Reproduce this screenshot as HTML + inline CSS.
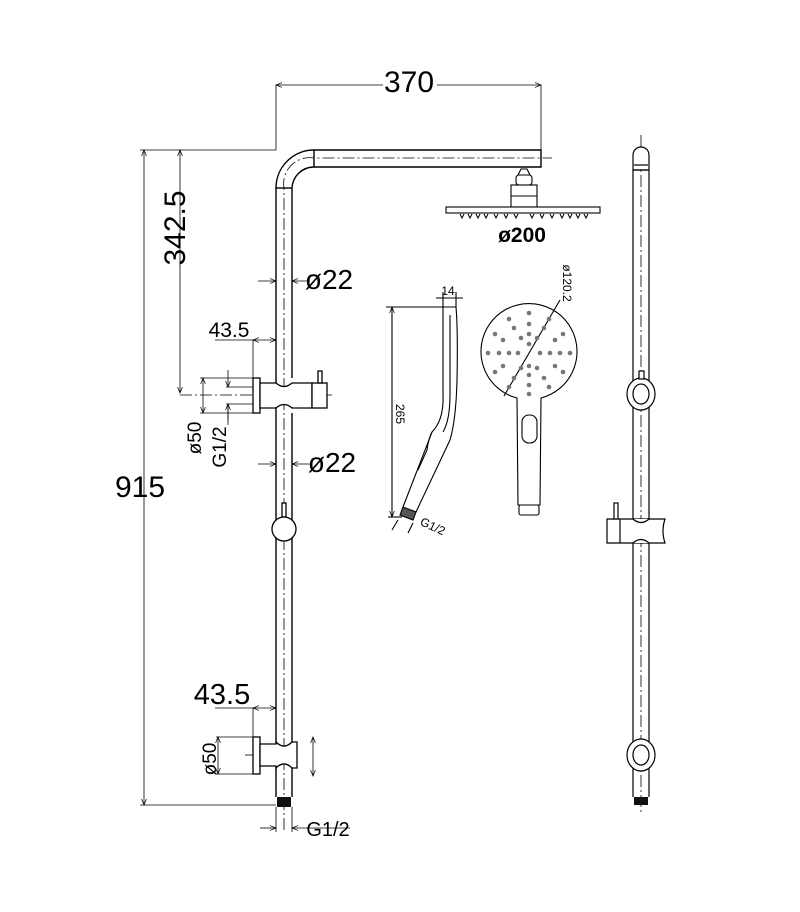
<!DOCTYPE html>
<html><head><meta charset="utf-8"><style>
html,body{margin:0;padding:0;background:#fff;}
svg{display:block;}
text{font-family:"Liberation Sans",sans-serif;fill:#000;}
</style></head><body>
<svg width="800" height="912" viewBox="0 0 800 912" xmlns="http://www.w3.org/2000/svg">
<defs>
<marker id="a" viewBox="0 0 10 10" refX="10" refY="5" markerWidth="8" markerHeight="6" orient="auto-start-reverse" markerUnits="userSpaceOnUse"><path d="M0,1 L10,5 L0,9" fill="none" stroke="#000" stroke-width="1.2"/></marker>
</defs>
<g fill="none" stroke="#000" stroke-width="1.4">
<!-- main pipe -->
<path d="M276,797 L276,188 A38,38 0 0 1 314,150 L541,150 L541,167 L314,167 A22,22 0 0 0 292,188 L292,378"/>
<path d="M292,413 L292,797"/>
<line x1="276" y1="188" x2="292" y2="188"/>
<line x1="314" y1="150" x2="314" y2="167"/>
</g>
<g fill="none" stroke="#000" stroke-width="0.8" stroke-dasharray="12,3,2,3">
<path d="M284,830 L284,188 A26,26 0 0 1 314,158 L552,158"/>
<line x1="180" y1="395" x2="335" y2="395"/>
<line x1="245" y1="755" x2="300" y2="755"/>
<line x1="641" y1="135" x2="641" y2="815"/>
</g>
<!-- dimension lines -->
<g fill="none" stroke="#000" stroke-width="0.8">
<line x1="276" y1="85" x2="276" y2="150"/>
<line x1="541" y1="85" x2="541" y2="150"/>
<line x1="276" y1="85" x2="383" y2="85" marker-start="url(#a)"/>
<line x1="437" y1="85" x2="541" y2="85" marker-end="url(#a)"/>
<line x1="140" y1="150" x2="276" y2="150"/>
<line x1="140" y1="805" x2="276" y2="805"/>
<line x1="144" y1="150" x2="144" y2="805" marker-start="url(#a)" marker-end="url(#a)"/>
<line x1="180" y1="150" x2="180" y2="393" marker-start="url(#a)" marker-end="url(#a)"/>
<!-- phi22 upper -->
<line x1="258" y1="281" x2="276" y2="281" marker-end="url(#a)"/>
<line x1="310" y1="281" x2="292" y2="281" marker-end="url(#a)"/>
<line x1="258" y1="464" x2="276" y2="464" marker-end="url(#a)"/>
<line x1="312" y1="464" x2="292" y2="464" marker-end="url(#a)"/>
<!-- 43.5 upper -->
<line x1="215" y1="340" x2="253" y2="340"/>
<line x1="253" y1="340" x2="276" y2="340" marker-start="url(#a)" marker-end="url(#a)"/>
<line x1="253" y1="340" x2="253" y2="378"/>
<!-- phi50 upper -->
<line x1="200" y1="378" x2="253" y2="378"/>
<line x1="200" y1="413" x2="253" y2="413"/>
<line x1="203" y1="378" x2="203" y2="413" marker-start="url(#a)" marker-end="url(#a)"/>
<line x1="226" y1="387" x2="253" y2="387"/>
<line x1="226" y1="404" x2="253" y2="404"/>
<line x1="228" y1="370" x2="228" y2="387" marker-end="url(#a)"/>
<line x1="228" y1="420" x2="228" y2="404" marker-end="url(#a)"/>
<line x1="228" y1="404" x2="228" y2="425"/>
<!-- 43.5 lower -->
<line x1="215" y1="708" x2="253" y2="708"/>
<line x1="253" y1="708" x2="276" y2="708" marker-start="url(#a)" marker-end="url(#a)"/>
<line x1="253" y1="708" x2="253" y2="737"/>
<line x1="216" y1="737" x2="253" y2="737"/>
<line x1="216" y1="774" x2="253" y2="774"/>
<line x1="218" y1="737" x2="218" y2="774" marker-start="url(#a)" marker-end="url(#a)"/>
<line x1="313" y1="737" x2="313" y2="776" marker-start="url(#a)" marker-end="url(#a)"/>
<!-- G1/2 bottom -->
<line x1="276" y1="807" x2="276" y2="832"/>
<line x1="292" y1="807" x2="292" y2="832"/>
<line x1="260" y1="828" x2="276" y2="828" marker-end="url(#a)"/>
<line x1="350" y1="828" x2="292" y2="828" marker-end="url(#a)"/>
</g>
<!-- upper slider -->
<g fill="#fff" stroke="#000" stroke-width="1.3">
<rect x="253" y="378" width="7" height="35"/>
<path d="M260,383 L276,383 Q284,390 292,383 L312,383 L312,408 L292,408 Q284,401 276,408 L260,408 Z"/>
<rect x="312" y="383" width="15" height="25"/>
<rect x="318" y="371" width="4" height="12"/>
<!-- ball knob -->
<rect x="282" y="503" width="4" height="14"/>
<circle cx="284" cy="529" r="12"/>
<!-- lower holder -->
<rect x="253" y="737" width="7" height="37"/>
<path d="M260,744 L276,744 L276,742 Q284,750 292,742 L297,742 L297,768 L292,768 Q284,760 276,768 L276,766 L260,766 Z"/>
</g>
<rect x="277" y="797" width="14" height="10" fill="#111"/>
<!-- rain head -->
<g fill="#fff" stroke="#000" stroke-width="1.1">
<path d="M518,175 L521,169 L527,169 L530,175 Z"/>
<rect x="516" y="175" width="16" height="10" rx="3"/>
<rect x="511" y="185" width="26" height="22"/>
<line x1="511" y1="196" x2="537" y2="196"/>
<rect x="446" y="207" width="154" height="6"/>
</g>
<g stroke="#000" stroke-width="1" fill="none">
<path d="M460,214 l2,4 l2,-4 M468,214 l2,4 l2,-4 M476,214 l2,4 l2,-4 M484,214 l2,4 l2,-4 M494,214 l2,4 l2,-4 M504,214 l2,4 l2,-4 M514,214 l2,4 l2,-4 M530,214 l2,4 l2,-4 M540,214 l2,4 l2,-4 M550,214 l2,4 l2,-4 M560,214 l2,4 l2,-4 M568,214 l2,4 l2,-4 M576,214 l2,4 l2,-4 M584,214 l2,4 l2,-4"/>
</g>
<!-- hand shower side -->
<g fill="none" stroke="#000" stroke-width="1.1">
<line x1="386" y1="307" x2="443" y2="307"/>
<line x1="392" y1="307" x2="392" y2="517" marker-start="url(#a)" marker-end="url(#a)"/>
<line x1="388" y1="517" x2="402" y2="517"/>
<line x1="443" y1="292" x2="443" y2="307"/>
<line x1="456" y1="292" x2="456" y2="307"/>
<line x1="436" y1="298" x2="463" y2="298"/>
<path d="M443,307 L456,307 Q458,330 457,380 Q456,420 450,440 L416,512"/>
<path d="M443,307 L443,395 Q444,420 432,432 L403,507"/>
<path d="M450,315 L450,395 Q450,420 443,432"/>
<path d="M432,432 Q428,440 427,450 L418,470"/>
<path d="M403,507 L416,512 L413,520 L400,515 Z" fill="#555"/>
<line x1="398" y1="520" x2="392" y2="530"/>
<line x1="413" y1="523" x2="408" y2="533"/>
</g>
<!-- hand shower front -->
<g fill="none" stroke="#000" stroke-width="1.1">
<path d="M517,398 A48,48 0 1 1 541,398 L540,505 L518,505 Z" fill="#fff"/>
<rect x="522" y="415" width="15" height="28" rx="7"/>
<rect x="519" y="505" width="20" height="10" rx="2"/>
<line x1="560" y1="300" x2="504" y2="396"/>
</g>
<g fill="#777">
<circle cx="529" cy="313" r="2.3"/><circle cx="529" cy="324" r="2.3"/><circle cx="529" cy="334" r="2.3"/><circle cx="529" cy="344" r="2.3"/>
<circle cx="529" cy="366" r="2.3"/><circle cx="529" cy="375" r="2.3"/><circle cx="529" cy="385" r="2.3"/><circle cx="529" cy="394" r="2.3"/>
<circle cx="488" cy="353" r="2.3"/><circle cx="499" cy="353" r="2.3"/><circle cx="509" cy="353" r="2.3"/><circle cx="518" cy="353" r="2.3"/>
<circle cx="540" cy="353" r="2.3"/><circle cx="550" cy="353" r="2.3"/><circle cx="560" cy="353" r="2.3"/><circle cx="570" cy="353" r="2.3"/>
<circle cx="509" cy="319" r="2.3"/><circle cx="514" cy="328" r="2.3"/><circle cx="521" cy="338" r="2.3"/>
<circle cx="549" cy="319" r="2.3"/><circle cx="544" cy="328" r="2.3"/><circle cx="537" cy="338" r="2.3"/>
<circle cx="509" cy="387" r="2.3"/><circle cx="514" cy="378" r="2.3"/><circle cx="521" cy="368" r="2.3"/>
<circle cx="549" cy="387" r="2.3"/><circle cx="544" cy="378" r="2.3"/><circle cx="537" cy="368" r="2.3"/>
<circle cx="495" cy="334" r="2.3"/><circle cx="503" cy="340" r="2.3"/><circle cx="563" cy="334" r="2.3"/><circle cx="555" cy="340" r="2.3"/>
<circle cx="495" cy="372" r="2.3"/><circle cx="503" cy="366" r="2.3"/><circle cx="563" cy="372" r="2.3"/><circle cx="555" cy="366" r="2.3"/>
</g>
<!-- right side view -->
<g fill="#fff" stroke="#000" stroke-width="1.2">
<line x1="633" y1="170" x2="633" y2="797"/>
<line x1="649" y1="170" x2="649" y2="797"/>
<path d="M633,170 L633,155 A8,8 0 0 1 649,155 L649,170 Z"/>
<line x1="634" y1="165" x2="648" y2="165"/>
<line x1="634" y1="170" x2="648" y2="170"/>
<ellipse cx="641" cy="394" rx="14" ry="16"/>
<ellipse cx="641" cy="394" rx="8" ry="10"/>
<rect x="639" y="371" width="5" height="8"/>
<path d="M607,519 L665,519 Q661,531 665,543 L607,543 Z"/>
<line x1="620" y1="519" x2="620" y2="543"/>
<path d="M633,519 Q641,526 649,519 M633,543 Q641,536 649,543"/>
<rect x="614" y="503" width="4" height="16"/>
<ellipse cx="641" cy="755" rx="14" ry="16"/>
<ellipse cx="641" cy="755" rx="8" ry="10"/>
</g>
<rect x="634" y="797" width="14" height="8" fill="#111"/>
<!-- text -->
<text x="409" y="92" font-size="30" text-anchor="middle">370</text>
<text x="140" y="497" font-size="30" text-anchor="middle">915</text>
<text transform="translate(185,228) rotate(-90)" font-size="30" text-anchor="middle">342.5</text>
<text x="329" y="289" font-size="28" text-anchor="middle">ø22</text>
<text x="332" y="472" font-size="28" text-anchor="middle">ø22</text>
<text x="229" y="337" font-size="21" text-anchor="middle">43.5</text>
<text x="222" y="704" font-size="29" text-anchor="middle">43.5</text>
<text transform="translate(201,438) rotate(-90)" font-size="19" text-anchor="middle">ø50</text>
<text transform="translate(226,447) rotate(-90)" font-size="19" text-anchor="middle">G1/2</text>
<text transform="translate(216,759) rotate(-90)" font-size="19" text-anchor="middle">ø50</text>
<text x="328" y="836" font-size="20" text-anchor="middle">G1/2</text>
<text x="522" y="242" font-size="21" font-weight="bold" text-anchor="middle">ø200</text>
<text x="448" y="295" font-size="12" text-anchor="middle">14</text>
<text transform="translate(396,414) rotate(90)" font-size="12" text-anchor="middle">265</text>
<text transform="translate(431,530) rotate(25)" font-size="12" text-anchor="middle">G1/2</text>
<text transform="translate(563,283) rotate(90)" font-size="12" text-anchor="middle">ø120.2</text>
</svg>
</body></html>
